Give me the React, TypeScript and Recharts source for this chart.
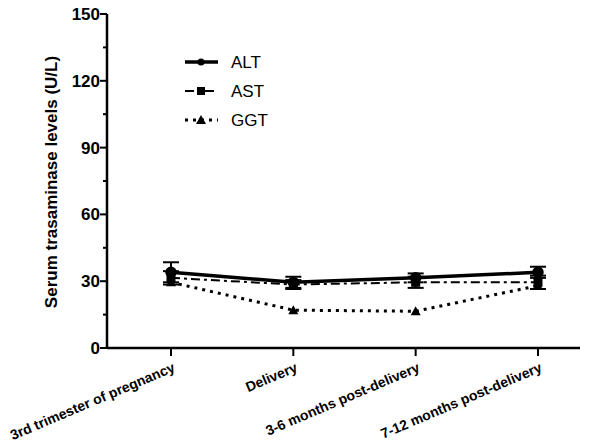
import React from 'react'
import { LineChart, Line, XAxis, YAxis, ErrorBar } from 'recharts'

const categories = ['3rd trimester of pregnancy', 'Delivery', '3-6 months post-delivery', '7-12 months post-delivery']
const alt = [34, 29.5, 31.5, 34]
const altErr = [4.5, 2.5, 2, 2.5]
const ast = [31.5, 28.5, 29.5, 29.5]
const astErr = [3, 2, 2.5, 3]
const ggt = [29.5, 17, 16.5, 28]
const yTicks = [0, 15, 30, 45, 60, 75, 90, 105, 120, 135, 150]

const data = categories.map((c, i) => ({
  name: c, alt: alt[i], altErr: altErr[i], ast: ast[i], astErr: astErr[i], ggt: ggt[i],
}))

const font = 'Arial, "Liberation Sans", sans-serif'

const YTick = (props: any) => {
  const { y, payload } = props
  const ax = 107
  const major = payload.value % 30 === 0
  return (
    <g>
      <line x1={ax - (major ? 7 : 4)} x2={ax} y1={y} y2={y} stroke="#000" strokeWidth={2} />
      {major && (
        <text x={ax - 7} y={y + 6} textAnchor="end" fontFamily={font} fontWeight="bold" fontSize={17} fill="#000">
          {payload.value}
        </text>
      )}
    </g>
  )
}

const XTick = (props: any) => {
  const { x, payload } = props
  const ay = 348
  const tx = x + 5
  const ty = ay + 23
  return (
    <g>
      <line x1={x} x2={x} y1={ay} y2={ay + 8} stroke="#000" strokeWidth={2} />
      <text x={tx} y={ty} textAnchor="end" transform={`rotate(-23, ${tx}, ${ty})`} fontFamily={font} fontWeight="bold" fontSize={14} fill="#000">
        {payload.value}
      </text>
    </g>
  )
}

const LegendBox = () => {
  const rows = [
    { label: 'ALT', dash: undefined, w: 3.5, marker: 'circle' },
    { label: 'AST', dash: '9 4 3 4', w: 2, marker: 'square' },
    { label: 'GGT', dash: '3 5', w: 3, marker: 'triangle' },
  ]
  return (
    <svg width={140} height={100}>
      {rows.map((r, i) => {
        const cy = 14 + i * 29
        return (
          <g key={r.label}>
            <line x1={5} x2={38} y1={cy} y2={cy} stroke="#000" strokeWidth={r.w} strokeDasharray={r.dash} />
            {r.marker === 'circle' && <circle cx={21} cy={cy} r={3.5} fill="#000" />}
            {r.marker === 'square' && <rect x={17} y={cy - 4} width={8} height={8} fill="#000" />}
            {r.marker === 'triangle' && <polygon points={`${21},${cy - 5} ${26},${cy + 4} ${16},${cy + 4}`} fill="#000" />}
            <text x={51} y={cy + 6} fontFamily={font} fontSize={17} fill="#000">{r.label}</text>
          </g>
        )
      })}
    </svg>
  )
}

const Square = (p: any) => <rect x={p.cx - 4.5} y={p.cy - 4.5} width={9} height={9} fill="#000" />
const Tri = (p: any) => <polygon points={`${p.cx},${p.cy - 5} ${p.cx + 5},${p.cy + 4} ${p.cx - 5},${p.cy + 4}`} fill="#000" />

export default function App() {
  return (
    <div style={{ position: 'absolute', left: 0, top: 0, width: 593, height: 444, background: '#fff' }}>
      <LineChart width={593} height={444} data={data} margin={{ top: 14, right: 13, bottom: 0, left: 0 }}>
        <XAxis dataKey="name" interval={0} padding={{ left: 64, right: 42 }} axisLine={{ stroke: '#000', strokeWidth: 2.5 }} tickLine={false} tick={<XTick />} height={96} />
        <YAxis
          width={107}
          domain={[0, 150]}
          ticks={yTicks}
          interval={0}
          axisLine={{ stroke: '#000', strokeWidth: 2.5 }}
          tickLine={false}
          tick={<YTick />}
          label={{ value: 'Serum trasaminase levels (U/L)', angle: -90, position: 'insideLeft', dx: 46, dy: 1, style: { fontFamily: font, fontWeight: 'bold', fontSize: 17, fill: '#000', textAnchor: 'middle' } }}
        />
        <Line dataKey="ggt" stroke="#000" strokeWidth={3} strokeDasharray="3 5" dot={<Tri />} isAnimationActive={false} />
        <Line dataKey="ast" stroke="#000" strokeWidth={2} strokeDasharray="9 4 3 4" dot={<Square />} isAnimationActive={false}>
          <ErrorBar dataKey="astErr" width={8} strokeWidth={2} stroke="#000" direction="y" />
        </Line>
        <Line dataKey="alt" stroke="#000" strokeWidth={3.5} dot={{ r: 4, fill: '#000', stroke: '#000' }} isAnimationActive={false}>
          <ErrorBar dataKey="altErr" width={8} strokeWidth={2} stroke="#000" direction="y" />
        </Line>
      </LineChart>
      <div style={{ position: 'absolute', left: 180, top: 48 }}>
        <LegendBox />
      </div>
    </div>
  )
}
